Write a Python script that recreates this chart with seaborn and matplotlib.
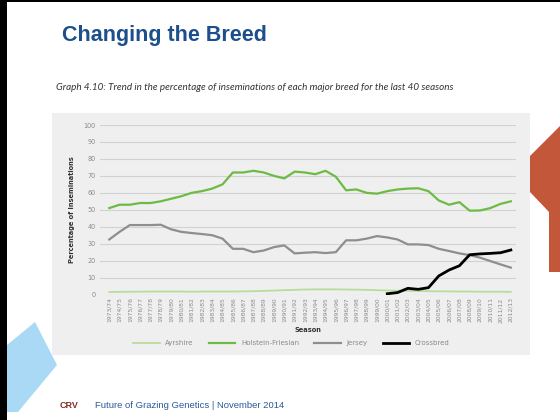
import matplotlib
matplotlib.use('Agg')
import matplotlib.pyplot as plt
from matplotlib.patches import Rectangle, Polygon
import pandas as pd
import seaborn as sns

# Seasons on the x axis
seasons = ['1973/74', '1974/75', '1975/76', '1976/77', '1977/78', '1978/79', '1979/80', '1980/81',
           '1981/82', '1982/83', '1983/84', '1984/85', '1985/86', '1986/87', '1987/88', '1988/89',
           '1989/90', '1990/91', '1991/92', '1992/93', '1993/94', '1994/95', '1995/96', '1996/97',
           '1997/98', '1998/99', '1999/00', '2000/01', '2001/02', '2002/03', '2003/04', '2004/05',
           '2005/06', '2006/07', '2007/08', '2008/09', '2009/10', '2010/11', '2011/12', '2012/13']

# Percentage of inseminations per breed
ayrshire = [1.5, 1.6, 1.7, 1.7, 1.8, 1.8, 1.8, 1.8, 1.7, 1.8, 1.8, 1.8, 1.8, 1.9, 2.0, 2.2,
            2.4, 2.6, 2.8, 3.0, 3.1, 3.1, 3.1, 3.0, 2.9, 2.8, 2.6, 2.4, 2.3, 2.2, 2.1, 2.0,
            1.9, 1.9, 1.8, 1.8, 1.7, 1.7, 1.7, 1.6]
holstein_friesian = [51, 53, 53, 54, 54, 55, 56.5, 58, 60, 61, 62.5, 65, 72, 72, 73, 72,
                     70, 68.5, 72.5, 72, 71, 73, 69.5, 61.5, 62, 60, 59.5, 61, 62, 62.5,
                     62.7, 61, 55.5, 53, 54.5, 49.5, 49.6, 51, 53.5, 55]
jersey = [32.5, 37, 41, 41, 41, 41.2, 38.5, 37, 36.3, 35.7, 35, 33, 27, 27, 25, 26,
          28, 29, 24.3, 24.7, 25, 24.5, 25, 32, 32, 33, 34.5, 33.7, 32.5, 29.6,
          29.6, 29.2, 27, 25.7, 24.3, 23.3, 21.8, 19.8, 17.8, 15.9]
crossbred_seasons = seasons[27:]
crossbred = [0.5, 1.2, 3.7, 3.1, 4.1, 11, 14.5, 17, 23.5, 24, 24.3, 24.7, 26.3]

df = pd.DataFrame({'season': range(len(seasons)), 'Ayrshire': ayrshire,
                   'Holstein-Friesian': holstein_friesian, 'Jersey': jersey})
df_cross = pd.DataFrame({'season': [seasons.index(s) for s in crossbred_seasons],
                         'Crossbred': crossbred})

W, H = 560, 420
fig = plt.figure(figsize=(5.6, 4.2), dpi=100)
fig.patch.set_facecolor('white')

# slide decorations
fig.patches.append(Rectangle((0, 0), 7 / W, 1, transform=fig.transFigure,
                             facecolor='black', zorder=-3))
fig.patches.append(Rectangle((0, 1 - 2 / H), 1, 2 / H, transform=fig.transFigure,
                             facecolor='black', zorder=-3))
orange = [(560, 126), (530, 156), (530, 192), (549, 212), (549, 272), (560, 272)]
fig.patches.append(Polygon([(x / W, 1 - y / H) for x, y in orange], closed=True,
                           transform=fig.transFigure, facecolor='#c2573a', zorder=-3))
blue = [(7, 345), (35, 322), (57, 365), (18, 412), (7, 412)]
fig.patches.append(Polygon([(x / W, 1 - y / H) for x, y in blue], closed=True,
                           transform=fig.transFigure, facecolor='#a9d9f5', zorder=-3))

# grey chart panel
fig.patches.append(Rectangle((52 / W, 1 - 355 / H), 478 / W, 242 / H, transform=fig.transFigure,
                             facecolor='#efefef', zorder=-2))

fig.text(62 / W, 1 - 36 / H, 'Changing the Breed', fontsize=15.5, fontweight='bold',
         color='#1d4f8c', family='Liberation Sans', va='center')
fig.text(56 / W, 1 - 87 / H,
         'Graph 4.10: Trend in the percentage of inseminations of each major breed for the last 40 seasons',
         fontsize=7.1, style='italic', color='#333333', family='Lato', va='center')

ax = fig.add_axes([100 / W, 1 - 294.6 / H, 416 / W, (294.6 - 125) / H])
ax.set_facecolor('#efefef')

sns.lineplot(data=df, x='season', y='Ayrshire', ax=ax, color='#b7dd9c', linewidth=1.3, label='Ayrshire')
sns.lineplot(data=df, x='season', y='Holstein-Friesian', ax=ax, color='#6dbb45', linewidth=1.6,
             label='Holstein-Friesian')
sns.lineplot(data=df, x='season', y='Jersey', ax=ax, color='#8e8e8e', linewidth=1.6, label='Jersey')
sns.lineplot(data=df_cross, x='season', y='Crossbred', ax=ax, color='black', linewidth=2.0,
             label='Crossbred')

ax.set_xlim(-0.9, 39.5)
ax.set_ylim(0, 100)
ax.set_yticks(range(0, 101, 10))
ax.set_xticks(range(len(seasons)))
ax.set_xticklabels(seasons, rotation=90)
ax.tick_params(axis='y', length=0, labelsize=4.7, labelcolor='#8a8a8a', pad=3)
ax.tick_params(axis='x', length=0, labelsize=4.3, labelcolor='#8a8a8a', pad=2)
ax.grid(axis='y', color='#d2d2d2', linewidth=0.8)
ax.set_axisbelow(True)
for s in ax.spines.values():
    s.set_visible(False)

ax.set_xlabel('Season', fontsize=4.8, fontweight='bold', color='#333333', labelpad=3)
ax.set_ylabel('Percentage of Inseminations', fontsize=4.8, fontweight='bold', color='#333333',
              labelpad=6)

leg = ax.legend(loc='center', bbox_to_anchor=(0.46, -0.285), ncol=4, frameon=False,
                fontsize=5, handlelength=3.8, columnspacing=2.2)
for t in leg.get_texts():
    t.set_color('#8a8a8a')

# footer
fig.text(60 / W, 1 - 405 / H, 'CRV', fontsize=6.5, fontweight='bold', color='#8a2b2b',
         family='Liberation Sans', va='center')
fig.text(95 / W, 1 - 405 / H, 'Future of Grazing Genetics | November 2014', fontsize=6.8,
         color='#2a5a9a', family='Liberation Sans', va='center')

fig.savefig('out.png', dpi=100)
